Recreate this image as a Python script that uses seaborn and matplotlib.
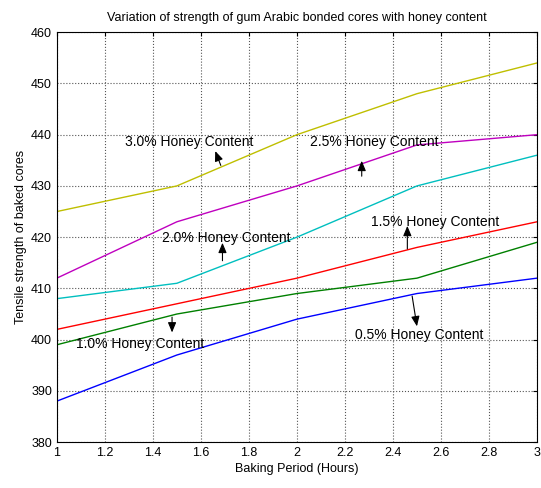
import matplotlib
matplotlib.use("Agg")
import matplotlib.pyplot as plt
import seaborn as sns
import pandas as pd

baking_period = [1.0, 1.5, 2.0, 2.5, 3.0]
honey_05 = [388, 397, 404, 409, 412]
honey_10 = [399, 405, 409, 412, 419]
honey_15 = [402, 407, 412, 418, 423]
honey_20 = [408, 411, 420, 430, 436]
honey_25 = [412, 423, 430, 438, 440]
honey_30 = [425, 430, 440, 448, 454]

series_names = ["0.5%", "1.0%", "1.5%", "2.0%", "2.5%", "3.0%"]
series_vals = [honey_05, honey_10, honey_15, honey_20, honey_25, honey_30]
colors = ["#0000ff", "#008000", "#ff0000", "#00bfbf", "#bf00bf", "#bfbf00"]

rows = []
for name, vals in zip(series_names, series_vals):
    for x, y in zip(baking_period, vals):
        rows.append({"period": x, "strength": y, "honey": name})
df = pd.DataFrame(rows)

sns.set_style("white")
plt.rcParams["font.family"] = ["Liberation Sans", "DejaVu Sans"]
plt.rcParams["text.color"] = "black"
plt.rcParams["axes.labelcolor"] = "black"

fig = plt.figure(figsize=(5.41, 4.88), dpi=100)
ax = fig.add_axes([0.105, 0.094, 0.8876, 0.84])
sns.lineplot(data=df, x="period", y="strength", hue="honey",
             palette=dict(zip(series_names, colors)), ax=ax, legend=False,
             linewidth=1.0)

ax.set_xlim(1, 3)
ax.set_ylim(380, 460)
ax.set_xticks([1, 1.2, 1.4, 1.6, 1.8, 2, 2.2, 2.4, 2.6, 2.8, 3])
ax.set_xticklabels(["1", "1.2", "1.4", "1.6", "1.8", "2", "2.2", "2.4", "2.6", "2.8", "3"])
ax.set_yticks(range(380, 461, 10))
ax.grid(True, linestyle=":", color="#555555", linewidth=0.8)
ax.tick_params(direction="in", length=3, labelsize=9, top=True, right=True,
               colors="black")
for s in ax.spines.values():
    s.set_color("black")
    s.set_linewidth(0.8)
    s.set_visible(True)

ax.set_title("Variation of strength of gum Arabic bonded cores with honey content",
             fontsize=9, pad=8, color="black")
ax.set_xlabel("Baking Period (Hours)", fontsize=9, labelpad=3)
ax.set_ylabel("Tensile strength of baked cores", fontsize=9, labelpad=3)

annotations = [
    ("3.0% Honey Content", (1.283, 438.6), (1.66, 436.8), (1.683, 434.0)),
    ("2.5% Honey Content", (2.054, 438.6), (2.27, 434.9), (2.27, 431.9)),
    ("2.0% Honey Content", (1.44, 419.8), (1.69, 418.9), (1.69, 415.4)),
    ("1.5% Honey Content", (2.31, 422.9), (2.46, 422.2), (2.46, 417.7)),
    ("1.0% Honey Content", (1.08, 399.1), (1.48, 401.4), (1.48, 404.4)),
    ("0.5% Honey Content", (2.24, 401.0), (2.50, 402.6), (2.48, 408.5)),
]
arrow = dict(arrowstyle="-|>,head_length=0.6,head_width=0.25", color="black",
             linewidth=0.8, shrinkA=0, shrinkB=0)
for text, tpos, head, tail in annotations:
    ax.text(tpos[0], tpos[1], text, fontsize=10, va="center", ha="left",
            color="black")
    ax.annotate("", xy=head, xytext=tail, arrowprops=arrow)

fig.savefig("out.png", dpi=100)
